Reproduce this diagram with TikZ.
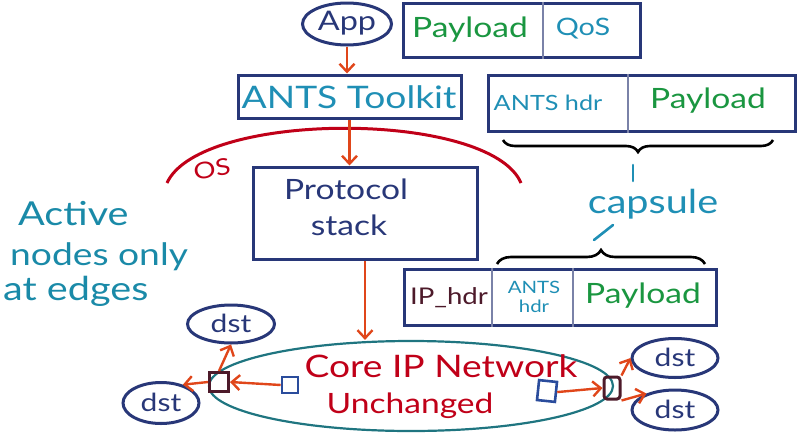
\documentclass[tikz,border=0pt]{standalone}
\usepackage{fontspec}
\setmainfont{Lato}
\usetikzlibrary{shapes.geometric,arrows.meta,decorations.pathreplacing}
\definecolor{navy}{HTML}{283778}
\definecolor{tealtxt}{HTML}{1F8FB5}
\definecolor{tealleft}{HTML}{1A8AA8}
\definecolor{greentxt}{HTML}{1A9640}
\definecolor{redtxt}{HTML}{C00018}
\definecolor{orangearr}{HTML}{E0461A}
\definecolor{maroon}{HTML}{4D1A2A}
\definecolor{coreline}{HTML}{1F7580}
\definecolor{sqblue}{HTML}{2A4C9C}
\definecolor{divider}{HTML}{7A82A8}
\newfontfamily\handfont[FakeStretch=1.2]{Lato}
\newcommand{\fs}[1]{\handfont\fontsize{#1}{#1}\selectfont}
\begin{document}
\begin{tikzpicture}[x=1pt,y=-1pt,
  box/.style={draw=navy,line width=3pt,inner sep=0pt,minimum width=#1},
  oval/.style={ellipse,draw=navy,line width=3pt,inner sep=0pt},
  txt/.style={inner sep=0pt,font=\fs{#1}},
  arr/.style={draw=orangearr,line width=2.4pt,-{Straight Barb[length=8pt,width=15pt,line width=2.4pt]}},
  dividerline/.style={draw=divider,line width=1.2pt},
  tick/.style={draw=tealtxt,line width=2.6pt,line cap=round},
  bracestyle/.style={draw=black,line width=2.6pt,decorate,decoration={brace,amplitude=#1}}]
\useasboundingbox (0,0) rectangle (811,434);
% boxes
\node[box=237pt,minimum height=54pt] (pq) at (521.5,30) {};
\node[box=223pt,minimum height=43pt] (tk) at (349.5,96.5) {};
\node[box=307pt,minimum height=56pt] (ah) at (641.5,103) {};
\node[box=224pt,minimum height=92pt] (proto) at (365,213) {};
\node[box=312pt,minimum height=56pt] (ip) at (560,297) {};
% dividers
\coordinate (d1) at (543,0);
\coordinate (d2) at (628,0);
\coordinate (d3) at (492,0);
\coordinate (d4) at (573,0);
\draw[dividerline] (pq.north -| d1) -- (pq.south -| d1);
\draw[dividerline] (ah.north -| d2) -- (ah.south -| d2);
\draw[dividerline] (ip.north -| d3) -- (ip.south -| d3);
\draw[dividerline] (ip.north -| d4) -- (ip.south -| d4);
% box texts
\node[txt=28,text=greentxt] (t1) at (470,30) {Payload};
\node[txt=24,text=tealtxt] (t2) at (583,29) {QoS};
\node[txt=31,text=tealtxt] (t3) at (349,97) {ANTS Toolkit};
\node[txt=21,text=tealtxt] (t4) at (548,103) {ANTS hdr};
\node[txt=28,text=greentxt] (t5) at (708,101) {Payload};
\node[txt=28,text=navy] (t6) at (346,189) {Protocol};
\node[txt=28,text=navy] (t7) at (349,225) {stack};
\node[txt=23,text=maroon] (t8) at (449,298) {IP\_hdr};
\node[txt=17,text=tealtxt,align=center] (t9) at (534,297) {ANTS\\[2pt]hdr};
\node[txt=28,text=greentxt] (t10) at (643,296) {Payload};
% App
\node[oval,minimum width=89pt,minimum height=42pt] (app) at (347,24) {};
\node[txt=27,text=navy] (apptxt) at (347,23) {App};
% OS arc
\coordinate (osl) at (167,183);
\coordinate (osr) at (521,183);
\draw[draw=redtxt,line width=3pt] (osl) .. controls (200,110) and (490,110) .. (osr);
\node[txt=23,text=redtxt,rotate=10] (os) at (212,169) {OS};
% left text
\node[txt=33,text=tealleft,anchor=west] (l1) at (18,214) {Active};
\node[txt=31,text=tealleft,anchor=west] (l2) at (10,257) {nodes only};
\node[txt=33,text=tealleft,anchor=west] (l3) at (3,291) {at edges};
% braces
\draw[bracestyle=12pt] (773,140) -- (503,140);
\draw[tick] (633,165) -- (633,181);
\node[txt=33,text=tealtxt] (cap) at (653,204) {capsule};
\coordinate (tickA) at (613,225);
\coordinate (tickB) at (594,240);
\draw[tick] (tickA) -- (tickB);
\draw[bracestyle=14pt] (497,264) -- (705,264);
% core network
\node[ellipse,draw=coreline,line width=2.2pt,minimum width=404pt,minimum height=90pt,inner sep=0pt] (core) at (411,386) {};
\node[txt=31,text=redtxt] (c1) at (441,366) {Core IP Network};
\node[txt=28,text=redtxt] (c2) at (410,406) {Unchanged};
% dst ovals
\node[oval,minimum width=87pt,minimum height=38pt] (dA) at (231,324) {};
\node[txt=25,text=navy] at (231,323) {dst};
\node[oval,minimum width=76pt,minimum height=41pt] (dB) at (161,403) {};
\node[txt=25,text=navy] at (161,402) {dst};
\node[oval,minimum width=86pt,minimum height=39pt] (dC) at (675,358) {};
\node[txt=25,text=navy] at (675,357) {dst};
\node[oval,minimum width=86pt,minimum height=40pt] (dD) at (675,410) {};
\node[txt=25,text=navy] at (675,409) {dst};
% squares
\node[draw=maroon,line width=3pt,minimum size=19pt,inner sep=0pt] (rl) at (219,382) {};
\node[draw=sqblue,line width=2.6pt,minimum size=16pt,inner sep=0pt] (bl) at (290,385) {};
\node[draw=sqblue,line width=2.6pt,minimum width=18pt,minimum height=20pt,inner sep=0pt,rotate=-6] (br) at (547,391) {};
\node[draw=maroon,line width=3pt,minimum width=16pt,minimum height=22pt,rounded corners=3pt,inner sep=0pt] (rr) at (612,388) {};
% arrows
\draw[arr] (app.south) -- (app.south |- tk.north);
\draw[arr] (tk.south) -- (tk.south |- proto.north);
\draw[arr] (proto.south) -- (proto.south |- core.north);
\draw[arr] (bl.west) -- (rl.east);
\draw[arr] (rl.north) -- (dA.south);
\draw[arr] (rl.west) -- (dB.40);
\draw[arr] (br.east) -- (rr.west);
\draw[arr] (rr.north east) -- (dC.west);
\draw[arr] (rr.south east) -- (dD.150);
\end{tikzpicture}
\end{document}
